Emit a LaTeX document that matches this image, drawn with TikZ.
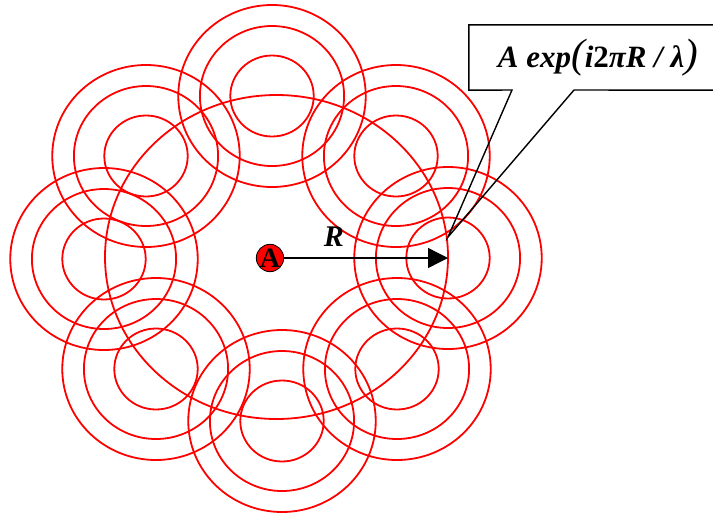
\documentclass[tikz,border=0pt]{standalone}
\usepackage{fontspec}
\setmainfont{Liberation Serif}
\usetikzlibrary{arrows.meta,positioning,calc}
\definecolor{wavered}{HTML}{FF0000}
\newcommand\bigparen[1]{{\fontsize{41}{41}\selectfont\mdseries #1}}
\tikzset{
  wave/.style={draw=wavered, line width=1.8pt},
  srcdot/.style={circle, draw=black, fill=wavered, line width=0.8pt, minimum size=20pt, inner sep=0pt, font=\fontsize{28}{28}\selectfont\bfseries},
  ray/.style={line width=1.4pt, -{Triangle[length=20pt,width=20pt]}},
  callbox/.style={rectangle, fill=white, minimum width=258pt, minimum height=65pt, inner sep=0pt, font=\fontsize{31}{33}\selectfont\bfseries\itshape},
  callline/.style={line width=1.4pt},
  rlabel/.style={font=\fontsize{30}{30}\selectfont\bfseries\itshape}
}

\begin{document}
\begin{tikzpicture}[x=1pt,y=-1pt]
  \useasboundingbox (0,0) rectangle (713,515);
  \coordinate (ctr) at (276.5,257);
  % wavelets along the front
  \foreach \px/\py in {448/258, 396/156, 272/96, 146/156, 104/259, 156/369, 282/421, 397/369}{
    \coordinate (w) at (\px,\py);
    \foreach \r in {40.5,70,91}
      \draw[wave] (w) ellipse [x radius=1.03*\r, y radius=\r];
  }
  \draw[wave] (ctr) ellipse [x radius=171.5, y radius=162];

  \node[srcdot] (src) at (270,258) {A};
  \coordinate (hit) at (448,258);
  \draw[ray] (src) -- (hit);
  \node[rlabel] (rl) at (334,237) {R};

  % callout
  \node[callbox] (eq) at (598,57.5) {A exp\bigparen(i{\upshape 2}πR / λ\bigparen)};
  \coordinate (pl) at (512,90);
  \coordinate (pr) at (574,90);
  \coordinate (tip) at (448,237);
  \draw[callline] (pl) -- (eq.south west) -- (eq.north west) -- (eq.north east)
    -- (eq.south east) -- (pr) -- (tip) -- cycle;
\end{tikzpicture}
\end{document}
